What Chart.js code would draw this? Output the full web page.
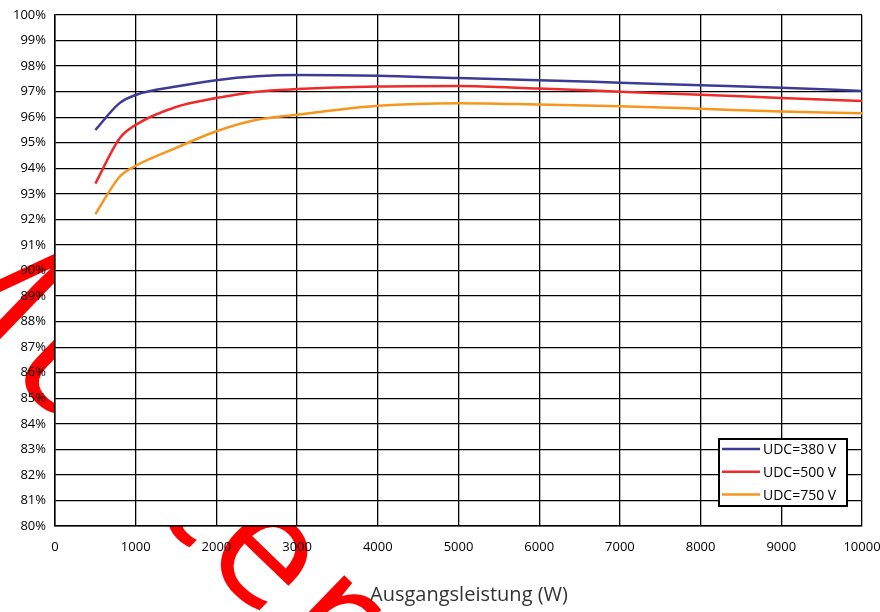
<!DOCTYPE html>
<html>
<head>
<meta charset="utf-8">
<script src="https://cdn.jsdelivr.net/npm/chart.js@4.4.1/dist/chart.umd.min.js"></script>
<style>
  html, body { margin: 0; padding: 0; background: #fff; }
</style>
</head>
<body>
<canvas id="chart" width="880" height="612"></canvas>
<script>
// output power in W (x positions of the measured points)
const power = [500, 800, 1000, 1500, 2000, 2500, 3000, 4000, 5000, 6000, 7000, 8000, 9000, 10000];

// efficiency in % for each DC voltage
const eff380 = [95.5, 96.55, 96.87, 97.2, 97.45, 97.6, 97.65, 97.62, 97.53, 97.45, 97.35, 97.25, 97.15, 97.03];
const eff500 = [93.4, 95.17, 95.7, 96.4, 96.75, 97.0, 97.1, 97.2, 97.22, 97.12, 97.0, 96.88, 96.75, 96.63];
const eff750 = [92.2, 93.67, 94.1, 94.8, 95.45, 95.9, 96.1, 96.45, 96.55, 96.5, 96.43, 96.33, 96.22, 96.15];

const seriesLabels = ["UDC=380 V", "UDC=500 V", "UDC=750 V"];
const seriesColors = ["#3c3c96", "#ee2a2a", "#f7961e"];

const xTitle = "Ausgangsleistung (W)";
const watermark = "Muster";

function toPoints(ys) {
    return ys.map((y, i) => ({ x: power[i], y: y }));
}

// red watermark behind the plot area, plot area painted white on top of it
const watermarkPlugin = {
    id: "watermark",
    beforeDraw(chart) {
        const ctx = chart.ctx;
        const a = chart.chartArea;
        const size = 165;
        const track = 10;
        const th = 44 * Math.PI / 180;
        ctx.save();
        ctx.font = size + "px 'Open Sans'";
        // advance of every letter, then put the "e" where it shows below the axis
        const chars = watermark.split("");
        const pos = [];
        let run = 0;
        chars.forEach(ch => { pos.push(run); run += ctx.measureText(ch).width + track; });
        const ei = watermark.indexOf("e");
        const cx = pos[ei] + ctx.measureText("e").width / 2;
        const cy = -0.535 * size / 2;
        const ox = 263 - (cx * Math.cos(th) - cy * Math.sin(th));
        const oy = 558 - (cx * Math.sin(th) + cy * Math.cos(th));
        ctx.translate(ox, oy);
        ctx.rotate(th);
        ctx.fillStyle = "#ff0000";
        ctx.textBaseline = "alphabetic";
        chars.forEach((ch, i) => ctx.fillText(ch, pos[i], 0));
        ctx.restore();
        ctx.save();
        ctx.fillStyle = "#fff";
        ctx.fillRect(a.left, a.top, a.right - a.left, a.bottom - a.top);
        ctx.restore();
    }
};

// boxed legend in the lower right corner of the plot, plus the x axis title
const boxLegend = {
    id: "boxLegend",
    afterDraw(chart) {
        const ctx = chart.ctx;
        const x0 = 719, y0 = 439, w = 128, h = 67;
        ctx.save();
        ctx.fillStyle = "#fff";
        ctx.fillRect(x0, y0, w, h);
        ctx.strokeStyle = "#000";
        ctx.lineWidth = 2;
        ctx.strokeRect(x0, y0, w, h);
        ctx.font = "14px 'Open Sans'";
        ctx.textBaseline = "middle";
        chart.data.datasets.forEach((ds, i) => {
            const y = y0 + 10 + i * 22.8;
            ctx.strokeStyle = ds.borderColor;
            ctx.lineWidth = 2.5;
            ctx.beginPath();
            ctx.moveTo(722, y);
            ctx.lineTo(760, y);
            ctx.stroke();
            ctx.fillStyle = "#000";
            ctx.fillText(ds.label, 763, y + 1);
        });
        ctx.fillStyle = "#333";
        ctx.font = "20px 'Open Sans'";
        ctx.textAlign = "center";
        ctx.fillText(xTitle, 469, 595);
        ctx.restore();
    }
};

const ctx = document.getElementById("chart").getContext("2d");
new Chart(ctx, {
    type: "line",
    data: {
        datasets: [eff380, eff500, eff750].map((ys, i) => ({
            label: seriesLabels[i],
            data: toPoints(ys),
            borderColor: seriesColors[i],
            backgroundColor: seriesColors[i],
            borderWidth: 2.5,
            pointRadius: 0,
            cubicInterpolationMode: "monotone",
            fill: false
        }))
    },
    options: {
        responsive: false,
        animation: false,
        layout: { padding: { top: 15, right: 18, bottom: 0, left: 0 } },
        plugins: {
            legend: { display: false },
            tooltip: { enabled: false }
        },
        scales: {
            x: {
                type: "linear",
                min: 0,
                max: 10000,
                ticks: {
                    stepSize: 1000,
                    color: "#000",
                    padding: 13,
                    maxRotation: 0,
                    font: { family: "'Open Sans'", size: 13 },
                    callback: v => String(v)
                },
                grid: { color: "#000", lineWidth: 1.3, drawTicks: false },
                border: { color: "#000", width: 1.5 },
                afterFit(s) { s.height = 86; s.paddingLeft = 0; s.paddingRight = 0; }
            },
            y: {
                min: 80,
                max: 100,
                ticks: {
                    stepSize: 1,
                    color: "#000",
                    padding: 9,
                    font: { family: "'Open Sans'", size: 13 },
                    callback: v => v + "%"
                },
                grid: { color: "#000", lineWidth: 1.3, drawTicks: false },
                border: { color: "#000", width: 1.5 },
                afterFit(s) { s.width = 55; s.paddingTop = 0; s.paddingBottom = 0; }
            }
        }
    },
    plugins: [watermarkPlugin, boxLegend]
});
</script>
</body>
</html>
